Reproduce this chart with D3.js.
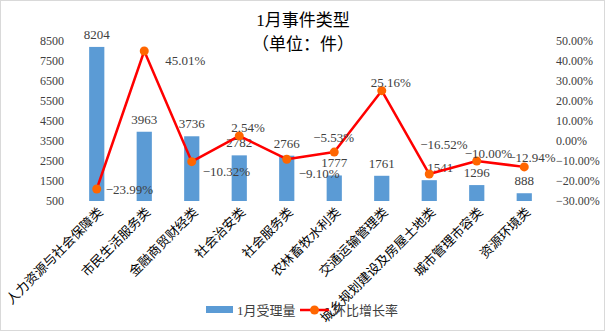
<!DOCTYPE html>
<html><head><meta charset="utf-8">
<script src="https://cdn.jsdelivr.net/npm/d3@7"></script>
<style>
html,body{margin:0;padding:0;background:#fff;}
svg{display:block;}
</style></head>
<body>
<script>
const categories = ["人力资源与社会保障类","市民生活服务类","金融商贸财经类","社会治安类","社会服务类","农林畜牧水利类","交通运输管理类","城乡规划建设及房屋土地类","城市管理市容类","资源环境类"];
const volumes = [8204, 3963, 3736, 2782, 2766, 1777, 1761, 1541, 1296, 888];
const rates = [-23.99, 45.01, -10.32, 2.54, -9.10, -5.53, 25.16, -16.52, -10.00, -12.94];
const leftTicks = [500, 1500, 2500, 3500, 4500, 5500, 6500, 7500, 8500];
const rightTicks = [-30, -20, -10, 0, 10, 20, 30, 40, 50];
const seriesNames = ["1月受理量", "环比增长率"];
const titleLines = ["1月事件类型", "（单位：件）"];

// label placement (style, not data)
const rateLabelOffsets = [[9,1],[21,10],[11,10],[-8,-8],[12,14],[-21,-15],[-11,-8],[-9,-30],[-12,-8],[-16,-9]];
const barLabelDx = [0,0,0,0,0,0,0,11,0,0];

const W = 606, H = 332;
const FONT = "'Liberation Serif','Noto Sans CJK SC',serif";
const svg = d3.select("body").append("svg").attr("width", W).attr("height", H);
svg.append("rect").attr("x",0.5).attr("y",0.5).attr("width",W-2).attr("height",H-2)
  .attr("fill","#fff").attr("stroke","#d9d9d9").attr("stroke-width",1);

const x = d3.scaleBand().domain(categories).range([73, 548]).paddingInner(0.68).paddingOuter(0.34);
const yL = d3.scaleLinear().domain([500, 8500]).range([201, 41]);
const yR = d3.scaleLinear().domain([-30, 50]).range([201, 41]);
const cx = c => x(c) + x.bandwidth()/2;

// title
svg.selectAll("text.title").data(titleLines).enter().append("text")
  .attr("x", 303).attr("y", (d,i) => 26 + i*24)
  .attr("text-anchor","middle").attr("font-family",FONT).attr("font-size",17).attr("fill","#000")
  .text(d => d);

// left axis
const axL = d3.axisLeft(yL).tickValues(leftTicks).tickSize(0).tickPadding(0).tickFormat(d3.format("d"));
const gL = svg.append("g").attr("transform","translate(64,0)").call(axL);
gL.select(".domain").remove();
gL.selectAll("text").attr("font-family",FONT).attr("font-size",12).attr("fill","#404040");

// right axis
const axR = d3.axisRight(yR).tickValues(rightTicks).tickSize(0).tickPadding(0)
  .tickFormat(d => (d<0?"−":"") + Math.abs(d).toFixed(2) + "%");
const gR = svg.append("g").attr("transform","translate(556,0)").call(axR);
gR.select(".domain").remove();
gR.selectAll("text").attr("font-family",FONT).attr("font-size",12).attr("fill","#404040");

// bars
svg.append("g").selectAll("rect").data(categories).enter().append("rect")
  .attr("x", c => x(c)).attr("width", x.bandwidth())
  .attr("y", (c,i) => yL(volumes[i])).attr("height", (c,i) => yL(500) - yL(volumes[i]))
  .attr("fill","#5b9bd5");

// bar labels
svg.append("g").selectAll("text").data(categories).enter().append("text")
  .attr("x", (c,i) => cx(c) + barLabelDx[i]).attr("y", (c,i) => yL(volumes[i]) - 8)
  .attr("text-anchor","middle").attr("font-family",FONT).attr("font-size",13).attr("fill","#404040")
  .text((c,i) => volumes[i]);

// category labels
svg.append("g").selectAll("text").data(categories).enter().append("text")
  .attr("transform", c => `translate(${cx(c)+7},${213}) rotate(-45)`)
  .attr("text-anchor","end").attr("font-family",FONT).attr("font-size",13).attr("fill","#000")
  .text(c => c);

// line
const line = d3.line().x((d,i) => cx(categories[i])).y(d => yR(d));
svg.append("path").datum(rates).attr("d", line).attr("fill","none")
  .attr("stroke","#ff0000").attr("stroke-width",2.5).attr("stroke-linejoin","round");
svg.append("g").selectAll("circle").data(rates).enter().append("circle")
  .attr("cx",(d,i) => cx(categories[i])).attr("cy", d => yR(d)).attr("r",4.5).attr("fill","#ff6600");

// rate labels
svg.append("g").selectAll("text").data(rates).enter().append("text")
  .attr("x",(d,i) => cx(categories[i]) + rateLabelOffsets[i][0])
  .attr("y",(d,i) => yR(d) + rateLabelOffsets[i][1])
  .attr("dominant-baseline","central")
  .attr("font-family",FONT).attr("font-size",13).attr("fill","#404040")
  .text(d => (d<0?"−":"") + Math.abs(d).toFixed(2) + "%");

// legend
const lg = svg.append("g");
lg.append("rect").attr("x",206).attr("y",306).attr("width",27).attr("height",7).attr("fill","#5b9bd5");
lg.append("text").attr("x",237).attr("y",314.5).attr("font-family",FONT).attr("font-size",13).attr("fill","#404040").text(seriesNames[0]);
lg.append("line").attr("x1",300).attr("x2",329).attr("y1",310).attr("y2",310).attr("stroke","#ff0000").attr("stroke-width",2.5);
lg.append("circle").attr("cx",314.5).attr("cy",310).attr("r",4.5).attr("fill","#ff6600");
lg.append("text").attr("x",333).attr("y",314.5).attr("font-family",FONT).attr("font-size",13).attr("fill","#404040").text(seriesNames[1]);
</script>
</body></html>
